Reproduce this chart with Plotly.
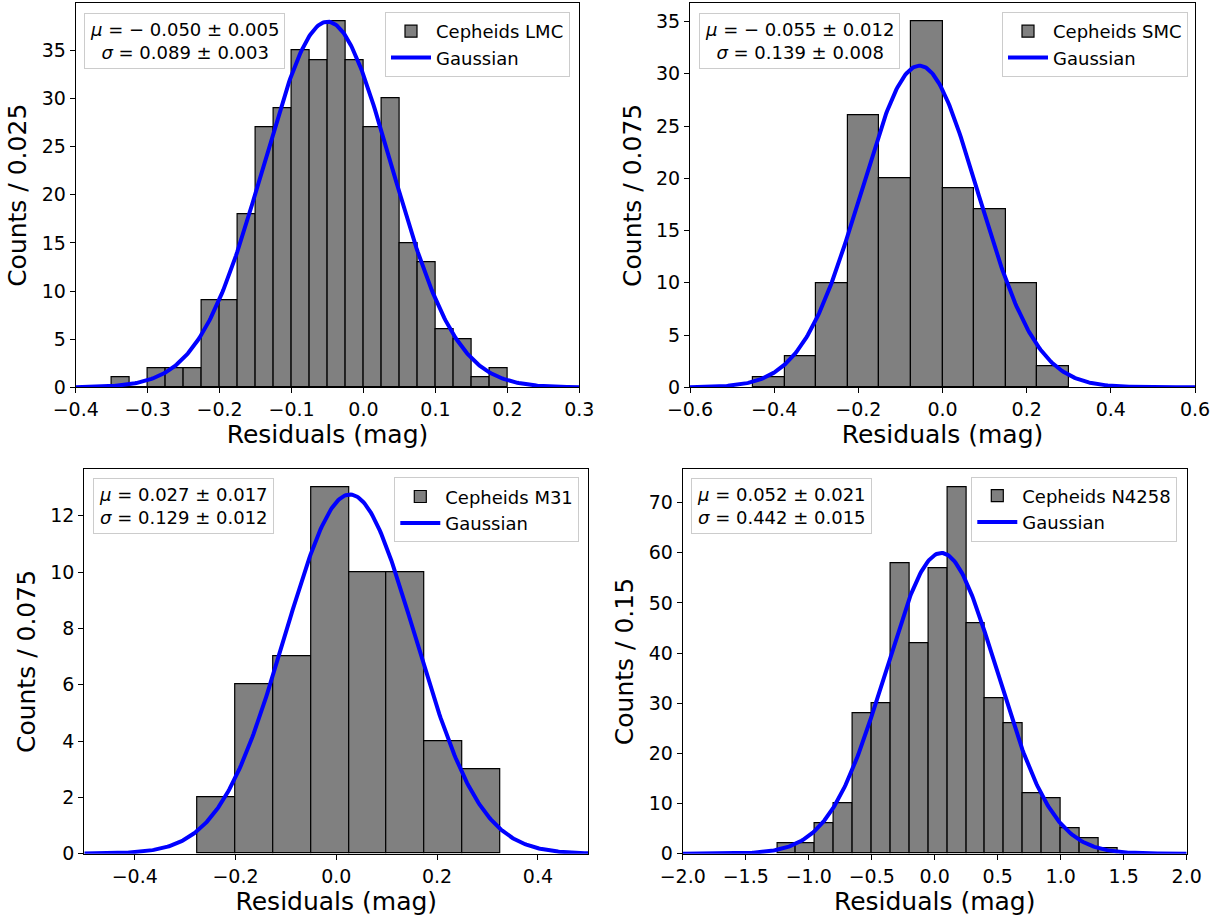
import numpy as np
import plotly.graph_objects as go

# ---------------- data ----------------
lmc_edges = [-0.350, -0.325, -0.300, -0.275, -0.250, -0.225, -0.200, -0.175, -0.150, -0.125,
             -0.100, -0.075, -0.050, -0.025, 0.000, 0.025, 0.050, 0.075, 0.100, 0.125,
             0.150, 0.175, 0.200]
lmc_counts = [1, 0, 2, 2, 2, 9, 9, 18, 27, 29, 35, 34, 38, 34, 27, 30, 15, 13, 6, 5, 1, 2]
lmc_mu, lmc_mu_err = -0.050, 0.005
lmc_sigma, lmc_sigma_err = 0.089, 0.003

smc_edges = [-0.450, -0.375, -0.300, -0.225, -0.150, -0.075, 0.000, 0.075, 0.150, 0.225, 0.300]
smc_counts = [1, 3, 10, 26, 20, 35, 19, 17, 10, 2]
smc_mu, smc_mu_err = -0.055, 0.012
smc_sigma, smc_sigma_err = 0.139, 0.008

m31_edges = [-0.275, -0.200, -0.125, -0.050, 0.025, 0.100, 0.175, 0.250, 0.325]
m31_counts = [2, 6, 7, 13, 10, 10, 4, 3]
m31_mu, m31_mu_err = 0.027, 0.017
m31_sigma, m31_sigma_err = 0.129, 0.012

n4258_edges = [-1.25, -1.10, -0.95, -0.80, -0.65, -0.50, -0.35, -0.20, -0.05, 0.10,
               0.25, 0.40, 0.55, 0.70, 0.85, 1.00, 1.15, 1.30, 1.45]
n4258_counts = [2, 2, 6, 10, 28, 30, 58, 42, 57, 73, 46, 31, 26, 12, 11, 5, 3, 1]
n4258_mu, n4258_mu_err = 0.052, 0.021
n4258_sigma, n4258_sigma_err = 0.442, 0.015

names = ["Cepheids LMC", "Cepheids SMC", "Cepheids M31", "Cepheids N4258"]
ylabels = ["Counts / 0.025", "Counts / 0.075", "Counts / 0.075", "Counts / 0.15"]
xlabel = "Residuals (mag)"
xlims = [(-0.4, 0.3), (-0.6, 0.6), (-0.5, 0.5), (-2.0, 2.0)]
xticks = [[-0.4, -0.3, -0.2, -0.1, 0.0, 0.1, 0.2, 0.3],
          [-0.6, -0.4, -0.2, 0.0, 0.2, 0.4, 0.6],
          [-0.4, -0.2, 0.0, 0.2, 0.4],
          [-2.0, -1.5, -1.0, -0.5, 0.0, 0.5, 1.0, 1.5, 2.0]]
yticks = [[0, 5, 10, 15, 20, 25, 30, 35],
          [0, 5, 10, 15, 20, 25, 30, 35],
          [0, 2, 4, 6, 8, 10, 12],
          [0, 10, 20, 30, 40, 50, 60, 70]]

datasets = [
    (lmc_edges, lmc_counts, lmc_mu, lmc_mu_err, lmc_sigma, lmc_sigma_err),
    (smc_edges, smc_counts, smc_mu, smc_mu_err, smc_sigma, smc_sigma_err),
    (m31_edges, m31_counts, m31_mu, m31_mu_err, m31_sigma, m31_sigma_err),
    (n4258_edges, n4258_counts, n4258_mu, n4258_mu_err, n4258_sigma, n4258_sigma_err),
]

# ---------------- layout geometry (pixels) ----------------
W, H = 1230, 917
axes_px = [  # left, right, top, bottom
    (75.7, 579.3, 3.3, 387.3),
    (690.0, 1195.0, 3.3, 387.3),
    (84.3, 588.3, 469.3, 853.7),
    (682.7, 1186.7, 469.3, 853.7),
]
legend_px = [(570.0, 12.0), (1188.0, 12.0), (579.3, 477.3), (1177.3, 476.5)]  # right, top
textbox_px = [(84.0, 12.7), (699.3, 12.9), (93.3, 478.3), (691.3, 478.3)]  # left, top
ytitle_standoff = [7, 7, 7, 7]

FONT = "DejaVu Sans"
fig = go.Figure()
layout = dict(
    width=W, height=H, autosize=False,
    margin=dict(l=0, r=0, t=0, b=0, autoexpand=False),
    paper_bgcolor="white", plot_bgcolor="white",
    font=dict(family=FONT, color="black"),
    showlegend=True,
    bargap=0,
)
annotations = []

for i, (edges, counts, mu, mu_err, sig, sig_err) in enumerate(datasets):
    k = "" if i == 0 else str(i + 1)
    xa, ya = "x" + k, "y" + k
    leg = "legend" + k
    edges_a = np.array(edges)
    centers = 0.5 * (edges_a[:-1] + edges_a[1:])
    widths = np.diff(edges_a)
    binw = widths[0]
    n_tot = float(np.sum(counts))

    fig.add_trace(go.Bar(
        x=centers, y=counts, width=widths, name=names[i],
        marker=dict(color="#808080", line=dict(color="black", width=1.2)),
        xaxis=xa, yaxis=ya, legend=leg, hoverinfo="skip",
    ))
    xs = np.linspace(xlims[i][0], xlims[i][1], 400)
    amp = n_tot * binw / (np.sqrt(2 * np.pi) * sig)
    ys = amp * np.exp(-0.5 * ((xs - mu) / sig) ** 2)
    fig.add_trace(go.Scatter(
        x=xs, y=ys, mode="lines", name="Gaussian",
        line=dict(color="#0000ff", width=4),
        xaxis=xa, yaxis=ya, legend=leg, hoverinfo="skip",
    ))

    l, r, t, b = axes_px[i]
    ymax = 1.05 * max(counts)
    common = dict(
        showline=True, linecolor="black", linewidth=1.1, mirror=True,
        ticks="outside", ticklen=5, tickwidth=1.1, tickcolor="black",
        showgrid=False, zeroline=False, automargin=False,
        tickfont=dict(family=FONT, size=19, color="black"),
    )
    layout["xaxis" + k] = dict(
        common, domain=[l / W, r / W], anchor=ya, range=list(xlims[i]),
        tickmode="array", tickvals=xticks[i], tickformat=".1f",
        title=dict(text=xlabel, font=dict(family=FONT, size=25, color="black"), standoff=4),
    )
    layout["yaxis" + k] = dict(
        common, domain=[1 - b / H, 1 - t / H], anchor=xa, range=[0, ymax],
        tickmode="array", tickvals=yticks[i],
        title=dict(text=ylabels[i], font=dict(family=FONT, size=25, color="black"),
                   standoff=ytitle_standoff[i]),
    )
    lr, lt = legend_px[i]
    layout[leg] = dict(
        x=lr / W, y=1 - lt / H, xanchor="right", yanchor="top",
        xref="paper", yref="paper",
        bgcolor="rgba(255,255,255,0.8)", bordercolor="#cccccc", borderwidth=1,
        font=dict(family=FONT, size=18, color="black"),
        itemwidth=40, tracegroupgap=0,
    )
    tl, tt = textbox_px[i]
    mu_str = f"{mu:.3f}".replace("-", "− ")
    txt = (f"<i>μ</i> = {mu_str} ± {mu_err:.3f}<br>"
           f"<i>σ</i> = {sig:.3f} ± {sig_err:.3f}")
    annotations.append(dict(
        x=tl / W, y=1 - tt / H, xref="paper", yref="paper",
        xanchor="left", yanchor="top", showarrow=False, align="center",
        text=txt, font=dict(family=FONT, size=18, color="black"),
        bgcolor="rgba(255,255,255,0.8)", bordercolor="#cccccc", borderwidth=1,
        borderpad=5,
    ))

layout["annotations"] = annotations
fig.update_layout(**layout)
fig.write_html("out.html")
